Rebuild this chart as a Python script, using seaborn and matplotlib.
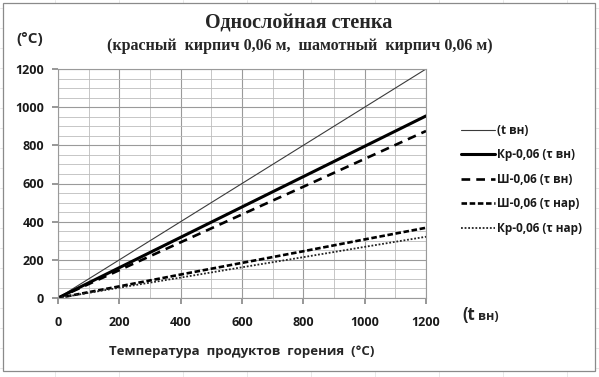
"""Однослойная стенка: температуры стенки vs температура продуктов горения."""
import matplotlib
matplotlib.use("Agg")
import matplotlib.pyplot as plt
from matplotlib.patches import Rectangle
from matplotlib.ticker import MultipleLocator
import pandas as pd
import seaborn as sns

# data -------------------------------------------------------------------
t_gas = [0, 200, 400, 600, 800, 1000, 1200]
t_in = [0, 200, 400, 600, 800, 1000, 1200]
kr_in = [0, 159, 318, 477, 636, 795, 954]
sh_in = [0, 146, 292, 438, 583, 729, 875]
sh_out = [0, 61, 123, 184, 245, 307, 368]
kr_out = [0, 54, 107, 161, 214, 268, 321]

series_names = ["(t вн)", "Кр-0,06 (τ вн)", "Ш-0,06 (τ вн)",
                "Ш-0,06 (τ нар)", "Кр-0,06 (τ нар)"]
series_vals = [t_in, kr_in, sh_in, sh_out, kr_out]

x_ticks = [0, 200, 400, 600, 800, 1000, 1200]
y_ticks = [0, 200, 400, 600, 800, 1000, 1200]

df = pd.DataFrame({
    "t": t_gas * len(series_names),
    "val": sum(series_vals, []),
    "series": [n for n in series_names for _ in t_gas],
})

# style ------------------------------------------------------------------
sns.set_theme(style="white")
plt.rcParams["font.family"] = ["Open Sans", "DejaVu Sans"]

line_styles = {
    "(t вн)": dict(lw=0.8, color="#3a3a3a", ls="-"),
    "Кр-0,06 (τ вн)": dict(lw=2.2, color="black", ls="-"),
    "Ш-0,06 (τ вн)": dict(lw=1.9, color="black", ls=(0, (3.3, 2.3))),
    "Ш-0,06 (τ нар)": dict(lw=1.9, color="black", ls=(0, (2.1, 1.0))),
    "Кр-0,06 (τ нар)": dict(lw=1.3, color="#222222", ls=(0, (1.0, 1.0))),
}

fig = plt.figure(figsize=(5.99, 3.77), dpi=100)
W, H = 599, 377

# spreadsheet cells behind the chart
for xc in range(-9, W, 64):
    fig.add_artist(plt.Line2D([xc / W, xc / W], [0, 1], color="#e4e4e4",
                              lw=0.6, zorder=-3))
for yc in range(8, H, 20):
    fig.add_artist(plt.Line2D([0, 1], [1 - yc / H, 1 - yc / H], color="#e4e4e4",
                              lw=0.6, zorder=-3))
fig.add_artist(Rectangle((3 / W, 1 - 371 / H), 592 / W, 368 / H,
                         transform=fig.transFigure, facecolor="white",
                         edgecolor="#8a8a8a", lw=0.9, zorder=-2))

ax = fig.add_axes([58 / W, 1 - 298 / H, 368 / W, 229 / H])
ax.set_facecolor("none")

for name in series_names:
    sub = df[df["series"] == name]
    st = line_styles[name]
    sns.lineplot(data=sub, x="t", y="val", ax=ax, label=name,
                 color=st["color"], lw=st["lw"])
    ax.lines[-1].set_linestyle(st["ls"])

ax.set_xlim(0, 1200)
ax.set_ylim(0, 1200)
ax.set_xticks(x_ticks)
ax.set_yticks(y_ticks)
ax.xaxis.set_minor_locator(MultipleLocator(100))
ax.yaxis.set_minor_locator(MultipleLocator(50))
ax.grid(which="major", color="#9a9a9a", lw=0.8)
ax.grid(which="minor", color="#bdbdbd", lw=0.6)
ax.set_axisbelow(True)
for sp in ax.spines.values():
    sp.set_color("#9a9a9a")
    sp.set_linewidth(0.8)
ax.tick_params(axis="both", which="major", length=4, color="#8a8a8a",
               labelsize=9, pad=6, bottom=True, left=True)
ax.tick_params(axis="both", which="minor", length=0)
for lab in ax.get_xticklabels() + ax.get_yticklabels():
    lab.set_fontweight("bold")
    lab.set_color("#1a1a1a")
ax.tick_params(axis="x", pad=9)
ax.set_xlabel("")
ax.set_ylabel("")

leg = ax.legend(loc="upper left", bbox_to_anchor=(461 / W, 1 - 124 / H),
                bbox_transform=fig.transFigure, frameon=False,
                fontsize=8.5, handlelength=2.9, handletextpad=0.15,
                labelspacing=0.97, borderpad=0, borderaxespad=0)
for t in leg.get_texts():
    t.set_fontweight("bold")
    t.set_color("#1a1a1a")

# titles and axis captions
fig.text(299 / W, 1 - 24 / H, "Однослойная стенка", ha="center", va="center",
         family="Liberation Serif", fontweight="bold", fontsize=14.5)
fig.text(300 / W, 1 - 46 / H, "(красный  кирпич 0,06 м,  шамотный  кирпич 0,06 м)",
         ha="center", va="center", family="Liberation Serif",
         fontweight="bold", fontsize=11.5)
fig.text(30 / W, 1 - 39 / H, "(°C)", ha="center", va="center",
         fontweight="bold", fontsize=11)
fig.text(242 / W, 1 - 351 / H, "Температура  продуктов  горения  (°C)",
         ha="center", va="center", fontweight="bold", fontsize=9.5)
fig.text(462 / W, 1 - 320 / H, "(t", ha="left", va="baseline",
         fontweight="bold", fontsize=12)
fig.text(478 / W, 1 - 320 / H, "вн)", ha="left", va="baseline",
         fontweight="bold", fontsize=9)

fig.savefig("out.png", dpi=100)
